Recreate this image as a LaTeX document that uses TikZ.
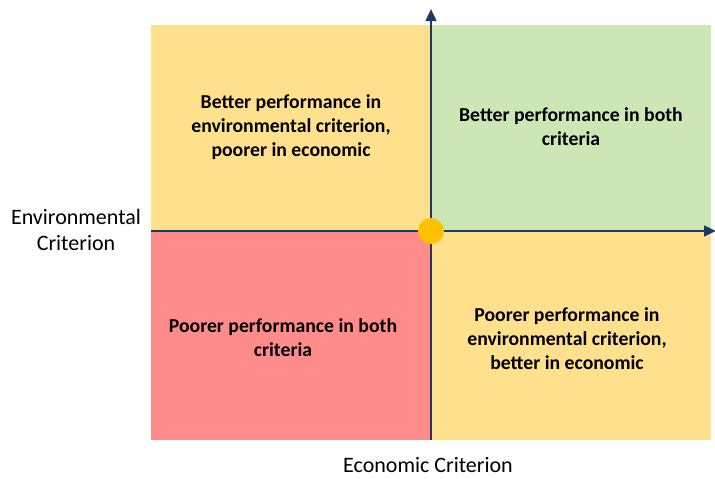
\documentclass[tikz,border=0pt]{standalone}
\usepackage{fontspec}
\setmainfont{Carlito}
\usepackage{tikz}
\usetikzlibrary{
    arrows.meta,
    positioning
}
\definecolor{quadyellow}{HTML}{FFE08C}
\definecolor{quadgreen}{HTML}{CDE6B6}
\definecolor{quadred}{HTML}{FF8B8B}
\definecolor{axisblue}{HTML}{1F3864}
\definecolor{originorange}{HTML}{FFC000}

\begin{document}
\begin{tikzpicture}[x=0.75pt,y=-0.75pt,
    quadtext/.style={align=center,font=\bfseries\fontsize{14.8}{18}\selectfont},
    axislabel/.style={inner sep=0pt,font=\fontsize{16.5}{19}\selectfont},
    axis/.style={axisblue,line width=1.8pt,-{Triangle[length=9pt,width=8pt]}}]

\useasboundingbox (0,0) rectangle (715,479);

% Quadrants
\fill[quadyellow] (151,25) rectangle (431,231);
\fill[quadgreen] (431,25) rectangle (711,231);
\fill[quadred] (151,231) rectangle (431,440);
\fill[quadyellow] (431,231) rectangle (711,440);

% Axes
\coordinate (ybot) at (431,440);
\coordinate (ytop) at (431,9);
\coordinate (xleft) at (151,231);
\coordinate (xright) at (716,231);
\draw[axis] (ybot) -- (ytop);
\draw[axis] (xleft) -- (xright);

% Origin
\node[circle,fill=originorange,minimum size=19.5pt,inner sep=0pt] (origin) at (431,231) {};

% Quadrant labels
\node[quadtext] (tl) at (291,127) {Better performance in\\environmental criterion,\\poorer in economic};
\node[quadtext] (tr) at (571,127) {Better performance in both\\criteria};
\node[quadtext] (bl) at (283,338) {Poorer performance in both\\criteria};
\node[quadtext] (br) at (567,339) {Poorer performance in\\environmental criterion,\\better in economic};

% Axis labels
\node[axislabel,align=center] (envlabel) at (76,230) {Environmental\\Criterion};
\node[axislabel,anchor=base] (ecolabel) at (428,472) {Economic Criterion};

\end{tikzpicture}
\end{document}
